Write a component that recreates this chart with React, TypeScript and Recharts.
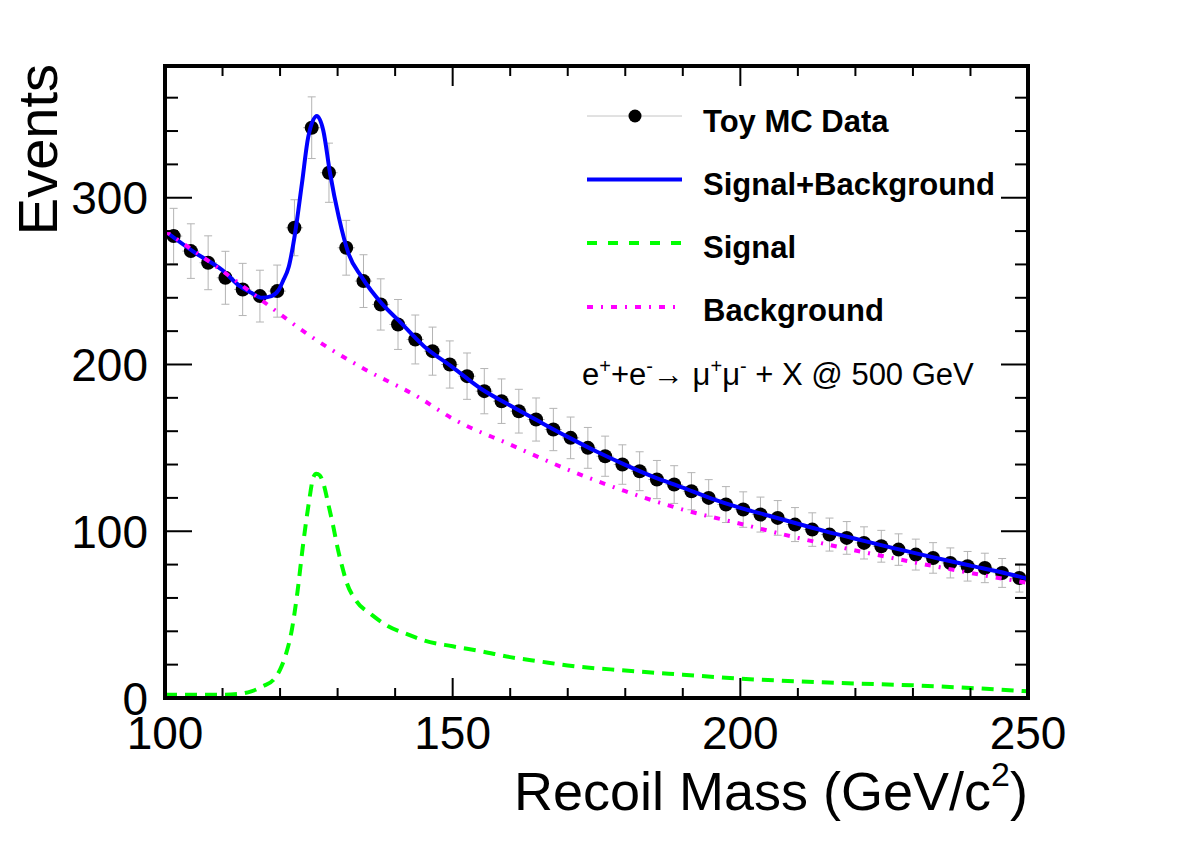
import {
  ComposedChart,
  ErrorBar,
  Label,
  Legend,
  Line,
  ReferenceArea,
  Scatter,
  XAxis,
  YAxis
} from 'recharts';

const FONT = '"Liberation Sans", Arial, Helvetica, sans-serif';

const CHART_W = 1182;
const CHART_H = 848;
const AXIS_LEFT = 165;
const AXIS_BOTTOM = 150;
const MARGIN = { top: 66, right: 154, bottom: 0, left: 0 };
const PLOT_W = CHART_W - AXIS_LEFT - MARGIN.right;
const PLOT_H = CHART_H - MARGIN.top - AXIS_BOTTOM;

// histogram of the toy sample, 3 GeV bins
const binCenters = [
  101.5, 104.5, 107.5, 110.5, 113.5, 116.5, 119.5, 122.5, 125.5, 128.5,
  131.5, 134.5, 137.5, 140.5, 143.5, 146.5, 149.5, 152.5, 155.5, 158.5,
  161.5, 164.5, 167.5, 170.5, 173.5, 176.5, 179.5, 182.5, 185.5, 188.5,
  191.5, 194.5, 197.5, 200.5, 203.5, 206.5, 209.5, 212.5, 215.5, 218.5,
  221.5, 224.5, 227.5, 230.5, 233.5, 236.5, 239.5, 242.5, 245.5, 248.5
];
const toyCounts = [
  277, 268, 261, 252, 245, 241, 244, 282, 342, 315,
  270, 250, 236, 224, 215, 208, 200, 193, 184, 178,
  172, 167, 161, 156, 150, 145, 140, 136, 131, 128,
  124, 120, 116, 113, 110, 108, 104, 101, 98, 96,
  93, 91, 89, 86, 84, 81, 79, 78, 75, 72
];
const binHalfWidth = 1.5;

// fitted signal + background
const totalMass = [
  100, 105, 110, 113, 115, 116.8, 118.5, 119.7, 120.5, 121.5, 122.6, 123.8,
  124.9, 126.4, 127.5, 128.7, 130.2, 131.9, 134.2, 137.7, 140.6, 145, 150,
  155, 160, 165, 170, 175, 180, 185, 190, 195, 200, 205, 210, 215, 220, 225,
  230, 235, 240, 245, 250
];
const totalEvents = [
  280, 267.5, 256.5, 247, 243, 240, 241, 244.4, 250, 258.4, 278.5, 308.5,
  336.5, 349, 340.5, 314.5, 288.5, 266.5, 252.4, 236.5, 226.4, 211, 198.3,
  185.3, 175.4, 165.9, 156.6, 147.8, 139.8, 132.5, 126.2, 119.6, 114, 109.3,
  104.5, 99.8, 95.5, 91.2, 87.2, 83.2, 79.4, 75.7, 71.5
];

// signal component
const signalMass = [
  100, 105, 110, 113, 115, 117, 119, 120, 121, 122, 123, 124, 125, 125.8,
  126.3, 126.9, 127.5, 128.4, 129.3, 130, 130.7, 131.6, 133.3, 135.9, 138.8,
  142.3, 145, 150, 155, 160, 165, 170, 180, 190, 200, 210, 220, 230, 240, 250
];
const signalEvents = [
  2, 2, 2, 2.5, 4, 7, 11.5, 17, 26, 40, 63, 92, 117, 132.5,
  134.5, 133.5, 129, 116, 102, 90, 80, 69, 58, 50, 43,
  38, 34.5, 31, 28, 24.5, 22, 19.5, 16.5, 14, 11.6, 10, 8.7, 7.6, 6, 4
];

// background component
const backgroundMass = [
  100, 110, 117, 125.5, 134, 144, 150, 160, 170, 180, 190, 200, 210, 220,
  230, 240, 250
];
const backgroundEvents = [
  280, 256, 238, 216.5, 198.5, 180.5, 167.5, 152, 137, 124, 113, 104.5, 96,
  88.5, 81.5, 75, 69
];

const xTicks = [100, 110, 120, 130, 140, 150, 160, 170, 180, 190, 200, 210, 220, 230, 240, 250];
const yTicks = [0, 20, 40, 60, 80, 100, 120, 140, 160, 180, 200, 220, 240, 260, 280, 300, 320, 340, 360];

const legendLabels = ['Toy MC Data', 'Signal+Background', 'Signal', 'Background'];

const toyData = binCenters.map((mass, i) => ({
  mass,
  events: toyCounts[i],
  err: Math.sqrt(toyCounts[i]),
  halfWidth: binHalfWidth
}));
const toPoints = (xs: number[], ys: number[]) => xs.map((mass, i) => ({ mass, events: ys[i] }));
const totalData = toPoints(totalMass, totalEvents);
const signalData = toPoints(signalMass, signalEvents);
const backgroundData = toPoints(backgroundMass, backgroundEvents);

// ticks point inward, drawn on both opposite edges of the frame
const renderXTick = (props: any) => {
  const { x, y, payload } = props;
  const major = payload.value % 50 === 0;
  const len = major ? 20 : 10;
  return (
    <g>
      <line x1={x} y1={y} x2={x} y2={y - len} stroke="#000" strokeWidth={2} />
      <line x1={x} y1={y - PLOT_H} x2={x} y2={y - PLOT_H + len} stroke="#000" strokeWidth={2} />
      {major && (
        <text x={x} y={y + 51} textAnchor="middle" fontSize={46} fontFamily={FONT} fill="#000">
          {payload.value}
        </text>
      )}
    </g>
  );
};

const renderYTick = (props: any) => {
  const { x, y, payload } = props;
  const major = payload.value % 100 === 0;
  const len = major ? 27 : 13;
  return (
    <g>
      <line x1={x} y1={y} x2={x + len} y2={y} stroke="#000" strokeWidth={2} />
      <line x1={x + PLOT_W} y1={y} x2={x + PLOT_W - len} y2={y} stroke="#000" strokeWidth={2} />
      {major && (
        <text x={x - 17} y={y} dy="0.36em" textAnchor="end" fontSize={46} fontFamily={FONT} fill="#000">
          {payload.value}
        </text>
      )}
    </g>
  );
};

const renderLegend = () => (
  <svg width={460} height={320} style={{ display: 'block', overflow: 'visible' }} fontFamily={FONT}>
    <line x1={27} x2={122} y1={26} y2={26} stroke="#c4c4c4" strokeWidth={1} />
    <circle cx={75} cy={26} r={6.5} fill="#000" />
    <line x1={27} x2={122} y1={89.5} y2={89.5} stroke="#0000ff" strokeWidth={4} />
    <line x1={27} x2={122} y1={153} y2={153} stroke="#00ff00" strokeWidth={4} strokeDasharray="10 11" />
    <line x1={27} x2={122} y1={217} y2={217} stroke="#ff00ff" strokeWidth={4} strokeDasharray="6 8 2 8" />
    {legendLabels.map((label, i) => (
      <text key={label} x={143} y={41.5 + i * 63} fontSize={31} fontWeight="bold" fill="#000">
        {label}
      </text>
    ))}
    <text x={22} y={295} fontSize={31} fill="#000">
      e<tspan dy={-12} fontSize={20}>+</tspan>
      <tspan dy={12}>+e</tspan>
      <tspan dy={-12} fontSize={20}>-</tspan>
      <tspan dy={12}>{'\u2192 \u03bc'}</tspan>
      <tspan dy={-12} fontSize={20}>+</tspan>
      <tspan dy={12}>{'\u03bc'}</tspan>
      <tspan dy={-12} fontSize={20}>-</tspan>
      <tspan dy={12}>{' + X @ 500 GeV'}</tspan>
    </text>
  </svg>
);

const XTitle = (props: any) => {
  const { x, y, width } = props.viewBox;
  return (
    <text x={x + width} y={y + 112} textAnchor="end" fontSize={54} fontFamily={FONT} fill="#000">
      Recoil Mass (GeV/c<tspan dy={-24} fontSize={34}>2</tspan>
      <tspan dy={24}>)</tspan>
    </text>
  );
};

const YTitle = (props: any) => {
  const { y } = props.viewBox;
  return (
    <text
      transform={`translate(57, ${y - 2}) rotate(-90)`}
      textAnchor="end"
      fontSize={56}
      fontFamily={FONT}
      fill="#000"
    >
      Events
    </text>
  );
};

export default function App() {
  return (
    <div style={{ position: 'absolute', left: 0, top: 0, background: '#fff' }}>
      <ComposedChart width={CHART_W} height={CHART_H} margin={MARGIN} style={{ fontFamily: FONT }}>
        <XAxis
          type="number"
          dataKey="mass"
          domain={[100, 250]}
          ticks={xTicks}
          interval={0}
          height={AXIS_BOTTOM}
          tickSize={0}
          tickMargin={0}
          axisLine={false}
          tickLine={false}
          tick={renderXTick}
          allowDataOverflow
        >
          <Label content={XTitle} />
        </XAxis>
        <YAxis
          type="number"
          domain={[0, 379]}
          ticks={yTicks}
          interval={0}
          width={AXIS_LEFT}
          tickSize={0}
          tickMargin={0}
          axisLine={false}
          tickLine={false}
          tick={renderYTick}
          allowDataOverflow
        >
          <Label content={YTitle} />
        </YAxis>
        <Legend
          layout="horizontal"
          verticalAlign="middle"
          align="center"
          content={renderLegend}
          wrapperStyle={{ left: 560, top: 90, width: 460, height: 320 }}
        />
        <Scatter
          name="Toy MC Data"
          data={toyData}
          dataKey="events"
          isAnimationActive={false}
          zIndex={300}
          shape={(p: any) => <circle cx={p.cx} cy={p.cy} r={7} fill="#000" />}
        >
          <ErrorBar
            dataKey="err"
            direction="y"
            width={4}
            stroke="#b4b4b4"
            strokeWidth={1}
            isAnimationActive={false}
            zIndex={250}
          />
          <ErrorBar
            dataKey="halfWidth"
            direction="x"
            width={0}
            stroke="#b4b4b4"
            strokeWidth={1}
            isAnimationActive={false}
            zIndex={250}
          />
        </Scatter>
        <Line
          name="Signal+Background"
          data={totalData}
          dataKey="events"
          type="monotone"
          stroke="#0000ff"
          strokeWidth={4}
          dot={false}
          activeDot={false}
          isAnimationActive={false}
          zIndex={700}
        />
        <Line
          name="Signal"
          data={signalData}
          dataKey="events"
          type="monotone"
          stroke="#00ff00"
          strokeWidth={4}
          strokeDasharray="12 8"
          dot={false}
          activeDot={false}
          isAnimationActive={false}
          zIndex={710}
        />
        <Line
          name="Background"
          data={backgroundData}
          dataKey="events"
          type="monotone"
          stroke="#ff00ff"
          strokeWidth={4}
          strokeDasharray="6 8 2 8"
          dot={false}
          activeDot={false}
          isAnimationActive={false}
          zIndex={720}
        />
        <ReferenceArea
          x1={100}
          x2={250}
          y1={0}
          y2={379}
          fill="none"
          stroke="#000"
          strokeWidth={4}
          ifOverflow="visible"
          zIndex={800}
        />
      </ComposedChart>
    </div>
  );
}
